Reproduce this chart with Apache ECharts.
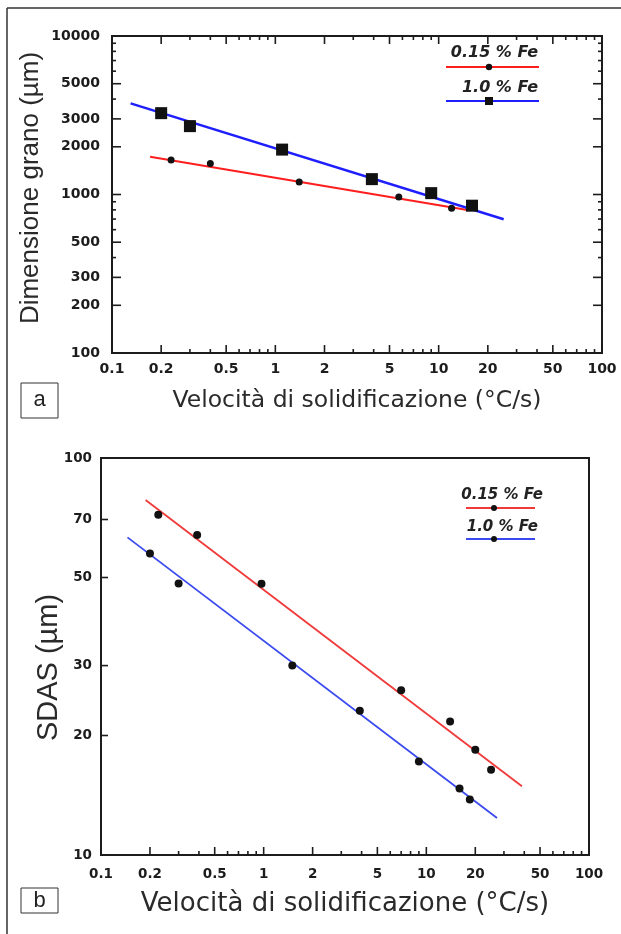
<!DOCTYPE html>
<html>
<head>
<meta charset="utf-8">
<script src="https://cdn.jsdelivr.net/npm/echarts@6/dist/echarts.min.js"></script>
<style>
  html, body { margin: 0; padding: 0; background: #fff; }
  #chart { width: 621px; height: 934px; }
</style>
</head>
<body>
<div id="chart"></div>
<script>
// ---- Panel a: grain size vs solidification rate ----
const rateA_015 = [0.23, 0.4, 1.4, 5.7, 12];
const grainA_015 = [1650, 1570, 1200, 965, 820];
const rateA_10 = [0.2, 0.3, 1.1, 3.9, 9, 16];
const grainA_10 = [3260, 2700, 1920, 1250, 1020, 850];
// fitted trend lines (end points)
const fitRateA_015 = [0.171, 15];
const fitGrainA_015 = [1730, 798];
const fitRateA_10 = [0.13, 25];
const fitGrainA_10 = [3760, 698];

// ---- Panel b: SDAS vs solidification rate ----
const rateB_015 = [0.225, 0.39, 0.97, 7, 14, 20, 25];
const sdasB_015 = [72, 64, 48.2, 26, 21.7, 18.4, 16.4];
const rateB_10 = [0.2, 0.3, 1.5, 3.9, 9, 16, 18.5];
const sdasB_10 = [57.5, 48.3, 30, 23.1, 17.2, 14.7, 13.8];
const fitRateB_015 = [0.188, 38.7];
const fitSdasB_015 = [78.4, 14.9];
const fitRateB_10 = [0.1455, 27.2];
const fitSdasB_10 = [63.1, 12.4];

// ---- axis ticks and labels ----
const xMajor = [0.1, 0.2, 0.5, 1, 2, 5, 10, 20, 50, 100];
const xMajorLabels = ['0.1', '0.2', '0.5', '1', '2', '5', '10', '20', '50', '100'];
const xMinor = [0.3, 0.4, 0.6, 0.7, 0.8, 0.9, 3, 4, 6, 7, 8, 9, 30, 40, 60, 70, 80, 90];
const yMajorA = [100, 200, 300, 500, 1000, 2000, 3000, 5000, 10000];
const yMajorLabelsA = ['100', '200', '300', '500', '1000', '2000', '3000', '5000', '10000'];
const yMinorA = [400, 600, 700, 800, 900, 4000, 6000, 7000, 8000, 9000];
const yMajorB = [10, 20, 30, 50, 70, 100];
const yMajorLabelsB = ['10', '20', '30', '50', '70', '100'];

const seriesNames = ['0.15 % Fe', '1.0 % Fe'];

const X_RANGE = [0.1, 100];
const Y_RANGE_A = [100, 10000];
const Y_RANGE_B = [10, 100];

const RED = '#ff1e1e';
const BLUE = '#1e1eff';
const INK = '#1c1c1c';
const TICK_FONT_A = 'bold 14px "DejaVu Sans"';
const TICK_FONT_B = 'bold 13.5px "DejaVu Sans"';

const zip = (xs, ys) => xs.map((x, i) => [x, ys[i]]);

// custom series that draws ticks (and optional labels) along the x axis
function xTickSeries(grid, values, labels, len, font, mirror) {
  return {
    type: 'custom', xAxisIndex: grid, yAxisIndex: grid, silent: true, clip: false, z: 5,
    data: values.map(v => [v, grid === 0 ? Y_RANGE_A[0] : Y_RANGE_B[0]]),
    encode: { x: 0, y: 1 },
    renderItem: (params, api) => {
      const v = api.value(0);
      const yr = grid === 0 ? Y_RANGE_A : Y_RANGE_B;
      const pb = api.coord([v, yr[0]]);
      const pt = api.coord([v, yr[1]]);
      const children = [{
        type: 'line', shape: { x1: pb[0], y1: pb[1], x2: pb[0], y2: pb[1] - len },
        style: { stroke: INK, lineWidth: 1.6 }
      }];
      if (mirror) {
        children.push({
          type: 'line', shape: { x1: pt[0], y1: pt[1], x2: pt[0], y2: pt[1] + len },
          style: { stroke: INK, lineWidth: 1.6 }
        });
      }
      if (labels) {
        children.push({
          type: 'text',
          style: {
            text: labels[params.dataIndex], x: pb[0], y: pb[1] + (grid === 0 ? 9 : 12),
            align: 'center', verticalAlign: 'top', font: font, fill: INK
          }
        });
      }
      return { type: 'group', children };
    }
  };
}

// custom series that draws ticks (and optional labels) along the y axis
function yTickSeries(grid, values, labels, len, font, mirror) {
  return {
    type: 'custom', xAxisIndex: grid, yAxisIndex: grid, silent: true, clip: false, z: 5,
    data: values.map(v => [X_RANGE[0], v]),
    encode: { x: 0, y: 1 },
    renderItem: (params, api) => {
      const v = api.value(1);
      const pl = api.coord([X_RANGE[0], v]);
      const pr = api.coord([X_RANGE[1], v]);
      const children = [{
        type: 'line', shape: { x1: pl[0], y1: pl[1], x2: pl[0] + len, y2: pl[1] },
        style: { stroke: INK, lineWidth: 1.6 }
      }];
      if (mirror) {
        children.push({
          type: 'line', shape: { x1: pr[0], y1: pr[1], x2: pr[0] - len, y2: pr[1] },
          style: { stroke: INK, lineWidth: 1.6 }
        });
      }
      if (labels) {
        children.push({
          type: 'text',
          style: {
            text: labels[params.dataIndex], x: pl[0] - (grid === 0 ? 12 : 9), y: pl[1],
            align: 'right', verticalAlign: 'middle', font: font, fill: INK
          }
        });
      }
      return { type: 'group', children };
    }
  };
}

function logAxis(grid, range, name, nameGap, nameSize, nameFont, rotate, namePadding) {
  return {
    type: 'log', logBase: 10, gridIndex: grid, min: range[0], max: range[1],
    name: name, nameLocation: 'middle', nameGap: nameGap,
    nameTextStyle: { fontSize: nameSize, fontFamily: nameFont, color: '#2a2a2a', padding: namePadding || 0 },
    nameRotate: rotate,
    axisLine: { show: true, lineStyle: { color: INK, width: 2 } },
    axisTick: { show: false }, axisLabel: { show: false },
    splitLine: { show: false }, minorTick: { show: false }, minorSplitLine: { show: false }
  };
}

const chart = echarts.init(document.getElementById('chart'), null, { renderer: 'canvas' });

const option = {
  backgroundColor: '#ffffff',
  animation: false,
  grid: [
    { left: 112, top: 36, right: 19, bottom: 581, show: true, borderColor: INK, borderWidth: 2,
      backgroundColor: 'transparent', containLabel: false, outerBoundsMode: 'none' },
    { left: 101, top: 458, right: 32, bottom: 79, show: true, borderColor: INK, borderWidth: 2,
      backgroundColor: 'transparent', containLabel: false, outerBoundsMode: 'none' }
  ],
  xAxis: [
    logAxis(0, X_RANGE, 'Velocità di solidificazione (°C/s)', 36, 23.5, '"DejaVu Sans"', 0),
    logAxis(1, X_RANGE, 'Velocità di solidificazione (°C/s)', 36, 26, '"DejaVu Sans"', 0)
  ],
  yAxis: [
    logAxis(0, Y_RANGE_A, 'Dimensione grano (µm)', 68, 26, '"Liberation Sans"', 90, [0, 0, 0, 13]),
    logAxis(1, Y_RANGE_B, 'SDAS (µm)', 38, 29, '"Liberation Sans"', 90, [0, 22, 0, 0])
  ],
  series: [
    // panel a fitted lines
    { type: 'line', name: seriesNames[0], xAxisIndex: 0, yAxisIndex: 0, data: zip(fitRateA_015, fitGrainA_015),
      showSymbol: false, symbol: 'none', lineStyle: { color: RED, width: 2.2 }, z: 2 },
    { type: 'line', name: seriesNames[1], xAxisIndex: 0, yAxisIndex: 0, data: zip(fitRateA_10, fitGrainA_10),
      showSymbol: false, symbol: 'none', lineStyle: { color: BLUE, width: 2.5 }, z: 2 },
    // panel a measurements
    { type: 'scatter', name: seriesNames[0], xAxisIndex: 0, yAxisIndex: 0, data: zip(rateA_015, grainA_015),
      symbol: 'circle', symbolSize: 7, itemStyle: { color: '#111', opacity: 1 }, z: 3 },
    { type: 'scatter', name: seriesNames[1], xAxisIndex: 0, yAxisIndex: 0, data: zip(rateA_10, grainA_10),
      symbol: 'rect', symbolSize: 12, itemStyle: { color: '#111', opacity: 1 }, z: 3 },
    // panel b fitted lines
    { type: 'line', name: seriesNames[0], xAxisIndex: 1, yAxisIndex: 1, data: zip(fitRateB_015, fitSdasB_015),
      showSymbol: false, symbol: 'none', lineStyle: { color: '#f03a3a', width: 1.8 }, z: 2 },
    { type: 'line', name: seriesNames[1], xAxisIndex: 1, yAxisIndex: 1, data: zip(fitRateB_10, fitSdasB_10),
      showSymbol: false, symbol: 'none', lineStyle: { color: '#3a4af0', width: 1.8 }, z: 2 },
    // panel b measurements
    { type: 'scatter', name: seriesNames[0], xAxisIndex: 1, yAxisIndex: 1, data: zip(rateB_015, sdasB_015),
      symbol: 'circle', symbolSize: 8, itemStyle: { color: '#111', opacity: 1 }, z: 3 },
    { type: 'scatter', name: seriesNames[1], xAxisIndex: 1, yAxisIndex: 1, data: zip(rateB_10, sdasB_10),
      symbol: 'circle', symbolSize: 8, itemStyle: { color: '#111', opacity: 1 }, z: 3 },
    // ticks and tick labels
    xTickSeries(0, xMajor, xMajorLabels, 8, TICK_FONT_A, true),
    xTickSeries(0, xMinor, null, 4, TICK_FONT_A, true),
    yTickSeries(0, yMajorA, yMajorLabelsA, 9, TICK_FONT_A, true),
    yTickSeries(0, yMinorA, null, 4, TICK_FONT_A, true),
    xTickSeries(1, xMajor, xMajorLabels, 8, TICK_FONT_B, false),
    xTickSeries(1, xMinor, null, 4, TICK_FONT_B, false),
    yTickSeries(1, yMajorB, yMajorLabelsB, 7, TICK_FONT_B, false)
  ],
  graphic: [
    // figure frame
    { type: 'line', shape: { x1: 7, y1: 8, x2: 621, y2: 8 }, style: { stroke: '#333', lineWidth: 1.5 } },
    { type: 'line', shape: { x1: 7, y1: 8, x2: 7, y2: 934 }, style: { stroke: '#333', lineWidth: 1.5 } },
    // panel tags
    { type: 'rect', shape: { x: 21, y: 383, width: 37, height: 35 }, style: { fill: '#fff', stroke: '#333', lineWidth: 1 } },
    { type: 'text', x: 39.5, y: 400, style: { text: 'a', font: '22px "Liberation Sans"', fill: '#222', align: 'center', verticalAlign: 'middle' } },
    { type: 'rect', shape: { x: 21, y: 888, width: 37, height: 25 }, style: { fill: '#fff', stroke: '#333', lineWidth: 1 } },
    { type: 'text', x: 39.5, y: 900.5, style: { text: 'b', font: '22px "Liberation Sans"', fill: '#222', align: 'center', verticalAlign: 'middle' } },
    // legend, panel a
    { type: 'text', x: 538, y: 53, style: { text: seriesNames[0], font: 'italic bold 16px "DejaVu Sans"', fill: '#222', align: 'right', verticalAlign: 'middle' } },
    { type: 'line', shape: { x1: 446, y1: 67, x2: 539, y2: 67 }, style: { stroke: RED, lineWidth: 2.2 } },
    { type: 'circle', shape: { cx: 489, cy: 67, r: 3.2 }, style: { fill: '#111' } },
    { type: 'text', x: 538, y: 88, style: { text: seriesNames[1], font: 'italic bold 16px "DejaVu Sans"', fill: '#222', align: 'right', verticalAlign: 'middle' } },
    { type: 'line', shape: { x1: 446, y1: 101, x2: 539, y2: 101 }, style: { stroke: BLUE, lineWidth: 2.2 } },
    { type: 'rect', shape: { x: 485, y: 97, width: 8, height: 8 }, style: { fill: '#111' } },
    // legend, panel b
    { type: 'text', x: 543, y: 495, style: { text: seriesNames[0], font: 'italic bold 15px "DejaVu Sans"', fill: '#222', align: 'right', verticalAlign: 'middle' } },
    { type: 'line', shape: { x1: 466, y1: 508, x2: 535, y2: 508 }, style: { stroke: '#f03a3a', lineWidth: 1.8 } },
    { type: 'circle', shape: { cx: 494, cy: 508, r: 3 }, style: { fill: '#111' } },
    { type: 'text', x: 538, y: 527, style: { text: seriesNames[1], font: 'italic bold 15px "DejaVu Sans"', fill: '#222', align: 'right', verticalAlign: 'middle' } },
    { type: 'line', shape: { x1: 466, y1: 539, x2: 535, y2: 539 }, style: { stroke: '#3a4af0', lineWidth: 1.8 } },
    { type: 'circle', shape: { cx: 494, cy: 539, r: 3 }, style: { fill: '#111' } }
  ]
};

chart.setOption(option);
</script>
</body>
</html>
